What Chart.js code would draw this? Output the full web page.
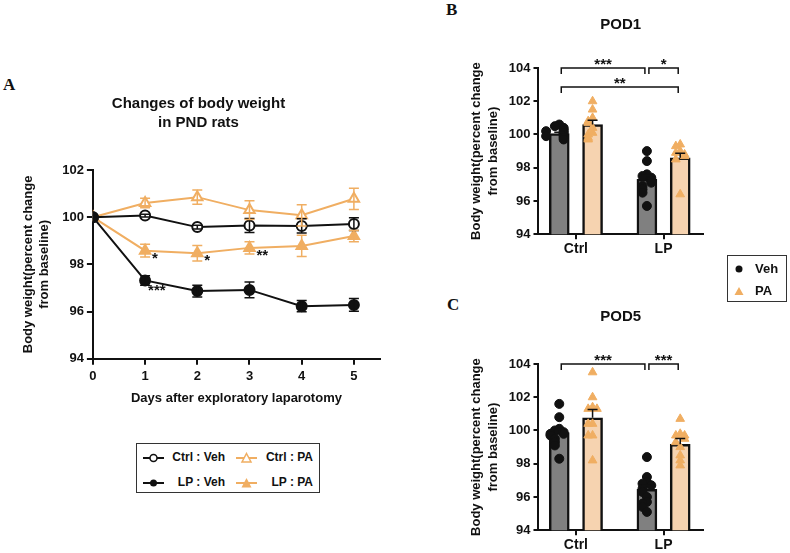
<!DOCTYPE html>
<html>
<head>
<meta charset="utf-8">
<script src="https://cdn.jsdelivr.net/npm/chart.js@4.4.1/dist/chart.umd.min.js"></script>
<style>
  body { margin: 0; background: #fff; width: 790px; height: 553px; position: relative; overflow: hidden;
         font-family: Arial, 'Liberation Sans', sans-serif; }
  canvas { position: absolute; }
  .tag { position: absolute; font: bold 17px 'Liberation Serif', 'Times New Roman', serif; line-height: 17px; color: #111; }
  .leg { position: absolute; border: 1.5px solid #333; box-sizing: border-box; font-weight: bold; font-size: 12px; color: #111; }
  .leg span, .leg svg { position: absolute; }
</style>
</head>
<body>
<div class="tag" style="left:3px;top:76px">A</div>
<div class="tag" style="left:446px;top:1px">B</div>
<div class="tag" style="left:447px;top:296px">C</div>

<canvas id="chartA" width="450" height="340" style="left:0;top:80px"></canvas>
<canvas id="chartB" width="290" height="264" style="left:440px;top:0"></canvas>
<canvas id="chartC" width="290" height="268" style="left:440px;top:292px"></canvas>

<div class="leg" style="left:136px;top:443px;width:184px;height:50px">
  <svg style="left:6px;top:8px" width="21" height="12"><line x1="0" y1="6" x2="21" y2="6" stroke="#111" stroke-width="2"/><circle cx="10.5" cy="6" r="3.5" fill="#fff" stroke="#111" stroke-width="1.5"/></svg>
  <span style="right:94px;top:6px">Ctrl : Veh</span>
  <svg style="left:99px;top:8px" width="21" height="12"><line x1="0" y1="6" x2="21" y2="6" stroke="#F0AE62" stroke-width="2"/><polygon points="10.5,1.5 15,10 6,10" fill="#fff" stroke="#F0AE62" stroke-width="1.5"/></svg>
  <span style="right:6px;top:6px">Ctrl : PA</span>
  <svg style="left:6px;top:33px" width="21" height="12"><line x1="0" y1="6" x2="21" y2="6" stroke="#111" stroke-width="2"/><circle cx="10.5" cy="6" r="3.5" fill="#111"/></svg>
  <span style="right:94px;top:31px">LP : Veh</span>
  <svg style="left:99px;top:33px" width="21" height="12"><line x1="0" y1="6" x2="21" y2="6" stroke="#F0AE62" stroke-width="2"/><polygon points="10.5,1 15.5,10.5 5.5,10.5" fill="#F0AE62"/></svg>
  <span style="right:6px;top:31px">LP : PA</span>
</div>

<div class="leg" style="left:727px;top:255px;width:60px;height:47px;font-size:13px">
  <svg style="left:6px;top:8px" width="10" height="10"><circle cx="5" cy="5" r="3.5" fill="#111"/></svg>
  <span style="left:27px;top:5px">Veh</span>
  <svg style="left:6px;top:30px" width="10" height="10"><polygon points="5,1 9.5,9 0.5,9" fill="#F0AE62"/></svg>
  <span style="left:27px;top:27px">PA</span>
</div>

<script>
// ---- panel A: time course ----
const days = [0, 1, 2, 3, 4, 5];
const ctrlVeh    = [100, 100.07, 99.58, 99.65, 99.63, 99.71];
const ctrlVehSem = [0, 0.06, 0.08, 0.3, 0.3, 0.27];
const ctrlPA     = [100, 100.6, 100.85, 100.3, 100.08, 100.78];
const ctrlPASem  = [0, 0.2, 0.3, 0.4, 0.45, 0.45];
const lpVeh      = [100, 97.32, 96.87, 96.92, 96.23, 96.28];
const lpVehSem   = [0, 0.2, 0.25, 0.33, 0.24, 0.27];
const lpPA       = [100, 98.58, 98.47, 98.7, 98.78, 99.2];
const lpPASem    = [0, 0.27, 0.33, 0.26, 0.45, 0.24];
const yTicksA = [94, 96, 98, 100, 102];
// [day, series, label]
const starsA = [[1, 'LP : PA', '*'], [2, 'LP : PA', '*'], [3, 'LP : PA', '**'], [1, 'LP : Veh', '***']];

// ---- panels B and C: single days ----
const groups = ['Ctrl', 'LP'];
const pod1VehMean = [100.05, 97.3];
const pod1PAMean  = [100.6, 98.6];
const pod1VehSem  = [0.08, 0.25];
const pod1PASem   = [0.25, 0.27];
const pod1CtrlVeh = [100.6, 100.5, 100.4, 100.3, 100.2, 100.1, 100.0, 99.9, 99.8, 99.7, 100.2, 99.9];
const pod1CtrlPA  = [102.0, 101.5, 101.0, 100.8, 100.7, 100.4, 100.1, 100.0, 99.8, 99.7];
const pod1LPVeh   = [99.0, 98.4, 97.6, 97.5, 97.4, 97.3, 97.2, 97.1, 96.9, 96.7, 96.5, 95.7];
const pod1LPPA    = [99.4, 99.3, 99.0, 98.9, 98.8, 98.7, 98.5, 96.4];
const pod1Brackets = [[0, 2, 104, '***'], [2, 3, 104, '*'], [0, 3, 102.85, '**']];

const pod5VehMean = [99.88, 96.46];
const pod5PAMean  = [100.76, 99.17];
const pod5VehSem  = [0.2, 0.25];
const pod5PASem   = [0.5, 0.35];
const pod5CtrlVeh = [101.6, 100.8, 100.1, 100.0, 99.9, 99.8, 99.8, 99.7, 99.5, 99.3, 99.1, 98.3];
const pod5CtrlPA  = [103.5, 102.0, 101.4, 101.3, 101.3, 100.4, 100.4, 99.7, 99.7, 98.2];
const pod5LPVeh   = [98.4, 97.2, 96.9, 96.8, 96.7, 96.5, 96.3, 96.0, 95.7, 95.6, 95.4, 95.1];
const pod5LPPA    = [100.7, 99.8, 99.7, 99.7, 99.5, 99.3, 99.0, 98.5, 98.2, 97.9];
const pod5Brackets = [[0, 2, 104, '***'], [2, 3, 104, '***']];
const yTicksBar = [94, 96, 98, 100, 102, 104];

const BLACK = '#111';
const ORANGE = '#F0AE62';
const PEACH = '#F6D3B0';
const GREY = '#808080';

Chart.defaults.font.family = "Arial, 'Liberation Sans', sans-serif";
Chart.defaults.font.weight = 'bold';
Chart.defaults.font.size = 13;
Chart.defaults.color = BLACK;

const axisStyle = (tickLen) => ({
  offset: false,
  border: { display: true, color: BLACK, width: 2 },
  grid: { offset: false, drawOnChartArea: false, drawTicks: true, tickLength: tickLen, color: BLACK, lineWidth: 2 },
});

// error bars, stars and brackets
const decor = {
  id: 'decor',
  afterDatasetsDraw(chart, args, opts) {
    const ctx = chart.ctx, xs = chart.scales.x, ys = chart.scales.y;
    ctx.save();
    ctx.lineWidth = 1.5;
    chart.data.datasets.forEach((ds, i) => {
      if (!ds.sem) return;
      const meta = chart.getDatasetMeta(i);
      ctx.strokeStyle = opts.barMode ? BLACK : ds.borderColor;
      meta.data.forEach((el, j) => {
        const v = meta.controller.getParsed(j).y, e = ds.sem[j];
        if (!e) return;
        const top = ys.getPixelForValue(v + e);
        const bot = opts.barMode ? ys.getPixelForValue(v) : ys.getPixelForValue(v - e);
        ctx.beginPath();
        ctx.moveTo(el.x, top); ctx.lineTo(el.x, bot);
        ctx.moveTo(el.x - 5, top); ctx.lineTo(el.x + 5, top);
        if (!opts.barMode) { ctx.moveTo(el.x - 5, bot); ctx.lineTo(el.x + 5, bot); }
        ctx.stroke();
      });
    });
    ctx.fillStyle = BLACK;
    ctx.font = 'bold 15px Arial, "Liberation Sans", sans-serif';
    ctx.textBaseline = 'alphabetic';
    (opts.stars || []).forEach(([d, name, txt]) => {
      const ds = chart.data.datasets.find(s => s.label === name);
      const v = ds.data.find(p => p.x === d).y;
      const below = txt === '***';
      ctx.textAlign = 'left';
      ctx.fillText(txt, xs.getPixelForValue(d) + (below ? 3 : 7), ys.getPixelForValue(v) + (below ? 15 : 12));
    });
    ctx.strokeStyle = BLACK;
    (opts.brackets || []).forEach(([a, b, lvl, txt]) => {
      const xa = xs.getPixelForValue(opts.barPos[a]) + 2, xb = xs.getPixelForValue(opts.barPos[b]) - 2;
      const yb = ys.getPixelForValue(lvl);
      ctx.beginPath();
      ctx.moveTo(xa, yb + 6); ctx.lineTo(xa, yb); ctx.lineTo(xb, yb); ctx.lineTo(xb, yb + 6);
      ctx.stroke();
      ctx.textAlign = 'center';
      ctx.fillText(txt, (xa + xb) / 2, yb + 1);
    });
    ctx.restore();
  }
};

const pts = (vals) => days.map((d, i) => ({ x: d, y: vals[i] }));

new Chart(document.getElementById('chartA'), {
  type: 'line',
  data: {
    datasets: [
      { label: 'LP : Veh', data: pts(lpVeh), sem: lpVehSem, borderColor: BLACK, backgroundColor: BLACK,
        pointStyle: 'circle', pointRadius: 5, borderWidth: 2 },
      { label: 'Ctrl : Veh', data: pts(ctrlVeh), sem: ctrlVehSem, borderColor: BLACK, backgroundColor: '#fff',
        pointStyle: 'circle', pointRadius: 5, borderWidth: 2, pointBorderWidth: 2 },
      { label: 'LP : PA', data: pts(lpPA), sem: lpPASem, borderColor: ORANGE, backgroundColor: ORANGE,
        pointStyle: 'triangle', pointRadius: 6, borderWidth: 2 },
      { label: 'Ctrl : PA', data: pts(ctrlPA), sem: ctrlPASem, borderColor: ORANGE, backgroundColor: '#fff',
        pointStyle: 'triangle', pointRadius: 6, borderWidth: 2, pointBorderWidth: 2 },
    ]
  },
  options: {
    responsive: false, animation: false, events: [],
    layout: { padding: { left: 17, right: 70, top: 0, bottom: 10 } },
    plugins: {
      legend: { display: false },
      tooltip: { enabled: false },
      title: { display: true, text: ['Changes of body weight', 'in PND rats'], font: { size: 15, lineHeight: 1.3 },
               padding: { top: 14, bottom: 37 } },
      decor: { stars: starsA },
    },
    scales: {
      x: { type: 'linear', min: 0, max: 5.5, ...axisStyle(6),
           afterBuildTicks: ax => { ax.ticks = days.map(v => ({ value: v })); },
           ticks: { padding: 4 },
           title: { display: true, text: 'Days after exploratory laparotomy', padding: { top: 2 } } },
      y: { min: 94, max: 102, ...axisStyle(6),
           afterBuildTicks: ax => { ax.ticks = yTicksA.map(v => ({ value: v })); },
           ticks: { padding: 3 },
           title: { display: true, text: ['Body weight(percent change', 'from baseline)'], padding: { top: 4, bottom: 7 },
                    font: { size: 13, lineHeight: 1.2 } } },
    }
  },
  plugins: [decor]
});

const BAR_OFF = 0.19;
function spread(vals, center) {
  const pattern = [0, -1, 1, -2, 2, -3, 3];
  const placed = [];
  return vals.map(v => {
    const n = placed.filter(p => Math.abs(p - v) < 0.25).length;
    placed.push(v);
    return { x: center + pattern[n % pattern.length] * 0.05, y: v };
  });
}

function barChart(id, title, vehMean, paMean, vehSem, paSem, ctrlVehPts, ctrlPAPts, lpVehPts, lpPAPts, brackets, titleGap) {
  const barPos = [1 - BAR_OFF, 1 + BAR_OFF, 2 - BAR_OFF, 2 + BAR_OFF];
  const barDs = (label, mean, sem, color, k) => ({
    type: 'bar', label, sem, order: 2, grouped: false,
    data: groups.map((g, i) => ({ x: barPos[i * 2 + k], y: mean[i] })),
    backgroundColor: color, borderColor: BLACK, borderWidth: 2.5, borderSkipped: false, barThickness: 20,
  });
  return new Chart(document.getElementById(id), {
    type: 'bar',
    data: {
      datasets: [
        { type: 'scatter', label: 'Veh', order: 1, data: [...spread(ctrlVehPts, barPos[0]), ...spread(lpVehPts, barPos[2])],
          backgroundColor: BLACK, borderColor: BLACK, pointStyle: 'circle', pointRadius: 4.5 },
        { type: 'scatter', label: 'PA', order: 1, data: [...spread(ctrlPAPts, barPos[1]), ...spread(lpPAPts, barPos[3])],
          backgroundColor: ORANGE, borderColor: ORANGE, pointStyle: 'triangle', pointRadius: 5 },
        barDs('Veh', vehMean, vehSem, GREY, 0),
        barDs('PA', paMean, paSem, PEACH, 1),
      ]
    },
    options: {
      responsive: false, animation: false, events: [],
      layout: { padding: { left: 24, right: 27, top: 0, bottom: 4 } },
      plugins: {
        legend: { display: false },
        tooltip: { enabled: false },
        title: { display: true, text: title, fullSize: false, font: { size: 15 }, padding: { top: 16, bottom: titleGap } },
        decor: { barMode: true, brackets, barPos },
      },
      scales: {
        x: { type: 'linear', min: 0.573, max: 2.45, ...axisStyle(5),
             afterBuildTicks: ax => { ax.ticks = groups.map((g, i) => ({ value: i + 1 })); },
             ticks: { padding: 2, font: { size: 14 }, callback: v => groups[v - 1] } },
        y: { min: 94, max: 104, ...axisStyle(5),
             afterBuildTicks: ax => { ax.ticks = yTicksBar.map(v => ({ value: v })); },
             ticks: { padding: 3 },
             title: { display: true, text: ['Body weight(percent change', 'from baseline)'], padding: 4,
                      font: { size: 13, lineHeight: 1.3 } } },
      }
    },
    plugins: [decor]
  });
}

barChart('chartB', 'POD1', pod1VehMean, pod1PAMean, pod1VehSem, pod1PASem,
         pod1CtrlVeh, pod1CtrlPA, pod1LPVeh, pod1LPPA, pod1Brackets, 34);
barChart('chartC', 'POD5', pod5VehMean, pod5PAMean, pod5VehSem, pod5PASem,
         pod5CtrlVeh, pod5CtrlPA, pod5LPVeh, pod5LPPA, pod5Brackets, 38);
</script>
</body>
</html>
